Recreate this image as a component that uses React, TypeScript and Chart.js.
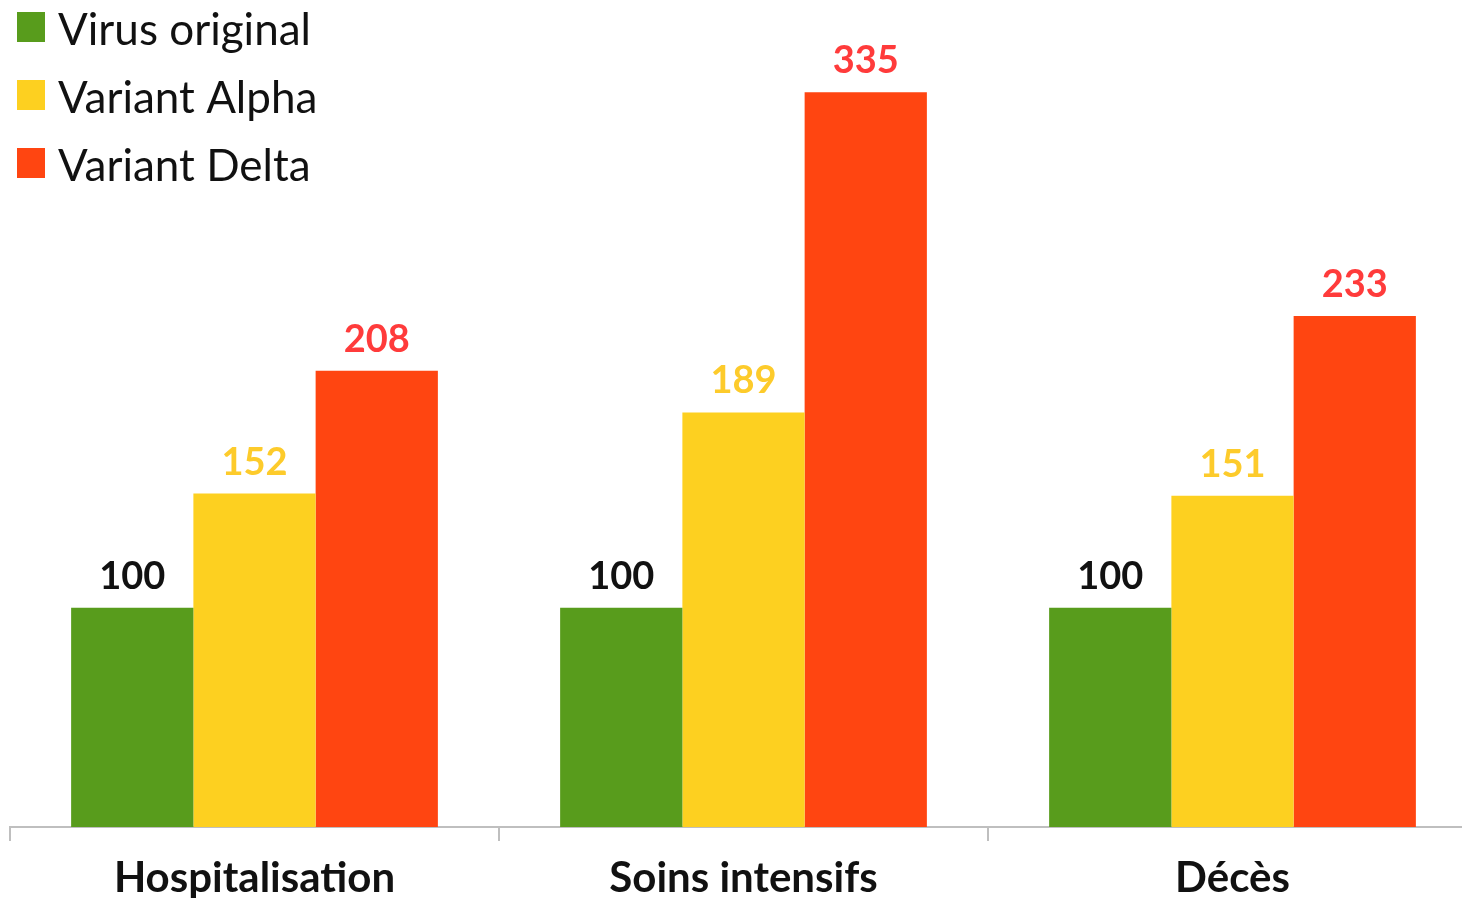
import React, { useEffect, useRef } from "react";
import { Chart, registerables } from "chart.js";

Chart.register(...registerables);

const categories = ["Hospitalisation", "Soins intensifs", "Décès"];
const seriesNames = ["Virus original", "Variant Alpha", "Variant Delta"];
const virusOriginal = [100, 100, 100];
const variantAlpha = [152, 189, 151];
const variantDelta = [208, 335, 233];
const barColors = ["#589C1C", "#FDD020", "#FF4511"];
const labelColors = ["#111111", "#FDCB2B", "#FF3B3B"];

const FONT = "Lato, 'Open Sans', sans-serif";

const valueLabels = {
  id: "valueLabels",
  afterDatasetsDraw(chart: any) {
    const ctx = chart.ctx;
    ctx.save();
    ctx.font = `bold 38px ${FONT}`;
    ctx.textAlign = "center";
    ctx.textBaseline = "alphabetic";
    chart.data.datasets.forEach((ds: any, i: number) => {
      const meta = chart.getDatasetMeta(i);
      ctx.fillStyle = labelColors[i];
      meta.data.forEach((el: any, j: number) => {
        ctx.fillText(String(ds.data[j]), el.x, el.y - 19);
      });
    });
    ctx.restore();
  },
};

const customLegend = {
  id: "customLegend",
  afterDraw(chart: any) {
    const ctx = chart.ctx;
    ctx.save();
    ctx.font = `44px ${FONT}`;
    ctx.textAlign = "left";
    ctx.textBaseline = "alphabetic";
    chart.data.datasets.forEach((ds: any, i: number) => {
      const top = 12 + 68 * i;
      ctx.fillStyle = ds.backgroundColor;
      ctx.fillRect(17, top, 28, 30);
      ctx.fillStyle = "#111111";
      ctx.fillText(ds.label, 58, top + 33);
    });
    ctx.restore();
  },
};

export default function App() {
  const ref = useRef<HTMLCanvasElement | null>(null);
  useEffect(() => {
    if (!ref.current) return;
    const series = [virusOriginal, variantAlpha, variantDelta];
    const chart = new Chart(ref.current, {
      type: "bar",
      data: {
        labels: categories,
        datasets: series.map((d, i) => ({
          label: seriesNames[i],
          data: d,
          backgroundColor: barColors[i],
          borderWidth: 0,
          categoryPercentage: 0.75,
          barPercentage: 1,
        })),
      },
      options: {
        responsive: false,
        animation: false,
        layout: { padding: { left: 10, right: 23, top: 0, bottom: 0 } },
        plugins: {
          legend: { display: false },
          tooltip: { enabled: false },
        },
        scales: {
          y: {
            display: false,
            min: 0,
            max: 377,
          },
          x: {
            afterFit(scale: any) {
              scale.height = 71;
            },
            grid: {
              display: true,
              drawOnChartArea: false,
              drawTicks: true,
              tickLength: 14,
              color: "#BFBFBF",
              tickColor: "#BFBFBF",
              lineWidth: 2,
              offset: true,
            },
            border: { display: true, color: "#BFBFBF", width: 2 },
            ticks: {
              color: "#111111",
              font: { family: FONT, size: 42, weight: "bold" },
              padding: 12,
              maxRotation: 0,
            },
          },
        },
      },
      plugins: [valueLabels, customLegend],
    });
    return () => chart.destroy();
  }, []);
  return (
    <div
      style={{
        position: "fixed",
        left: 0,
        top: 0,
        width: 1462,
        height: 898,
        overflow: "hidden",
        background: "#ffffff",
      }}
    >
      <canvas ref={ref} width={1500} height={898} style={{ display: "block" }} />
    </div>
  );
}
